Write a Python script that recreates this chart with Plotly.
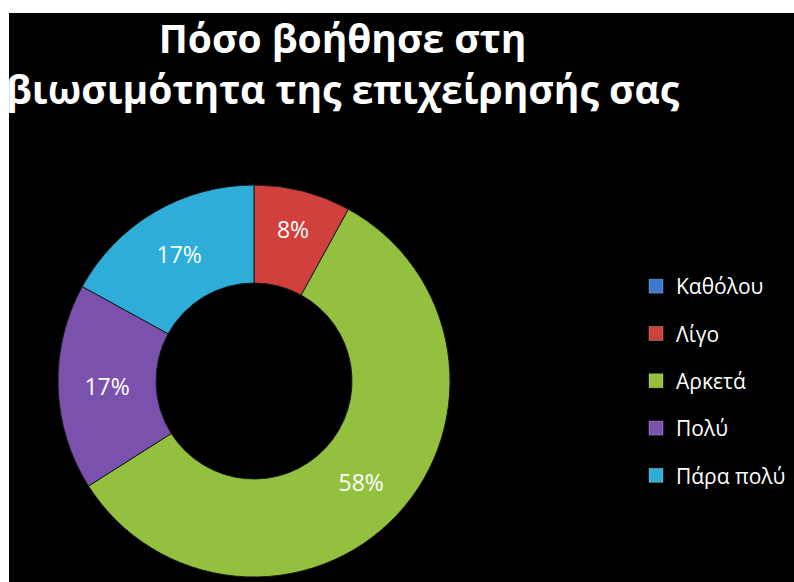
import plotly.graph_objects as go

# Survey answers and their shares (%)
categories = ["Καθόλου", "Λίγο", "Αρκετά", "Πολύ", "Πάρα πολύ"]
shares = [0, 8, 58, 17, 17]
colors = ["#3C78D0", "#D0403C", "#93C13F", "#7A52AE", "#2EADD8"]

title_text = "Πόσο βοήθησε στη<br>βιωσιμότητα της επιχείρησής σας"

W, H = 794, 582

fig = go.Figure()

fig.add_trace(
    go.Pie(
        labels=categories,
        values=shares,
        sort=False,
        direction="clockwise",
        rotation=0,
        hole=0.5,
        marker=dict(colors=colors, line=dict(color="#1a1a1a", width=1)),
        texttemplate="%{percent:.0%}",
        textposition="inside",
        insidetextorientation="horizontal",
        textfont=dict(family="Open Sans", size=23, color="white"),
        hoverinfo="skip",
        showlegend=False,
        domain=dict(x=[58 / W, 450 / W], y=[5 / H, 397 / H]),
    )
)

# legend keys: one entry per answer, each in its own group so rows can be spaced out
for name, col in zip(categories, colors):
    fig.add_trace(
        go.Scatter(
            x=[None], y=[None], mode="markers", name=name, legendgroup=name,
            marker=dict(symbol="square", size=14, color=col,
                        line=dict(color="rgba(255,255,255,0.25)", width=1)),
            hoverinfo="skip",
        )
    )

fig.update_layout(
    width=W,
    height=H,
    margin=dict(l=0, r=0, t=0, b=0),
    paper_bgcolor="black",
    plot_bgcolor="black",
    xaxis=dict(visible=False),
    yaxis=dict(visible=False),
    legend=dict(
        x=636 / W,
        xanchor="left",
        y=1 - 266 / H,
        yanchor="top",
        tracegroupgap=17,
        itemsizing="trace",
        font=dict(family="Open Sans", size=21, color="white"),
        bgcolor="rgba(0,0,0,0)",
    ),
    annotations=[
        dict(
            text=title_text, x=343 / W, y=1 - 9 / H, xref="paper", yref="paper",
            xanchor="center", yanchor="top", showarrow=False,
            font=dict(family="Open Sans", size=39, color="white", weight="bold"),
        )
    ],
    shapes=[
        dict(type="rect", xref="paper", yref="paper", x0=0, x1=9 / W, y0=0, y1=1,
             fillcolor="white", line=dict(width=0)),
        dict(type="rect", xref="paper", yref="paper", x0=0, x1=1, y0=1 - 13 / H, y1=1,
             fillcolor="white", line=dict(width=0)),
    ],
)

fig.write_html("out.html")
